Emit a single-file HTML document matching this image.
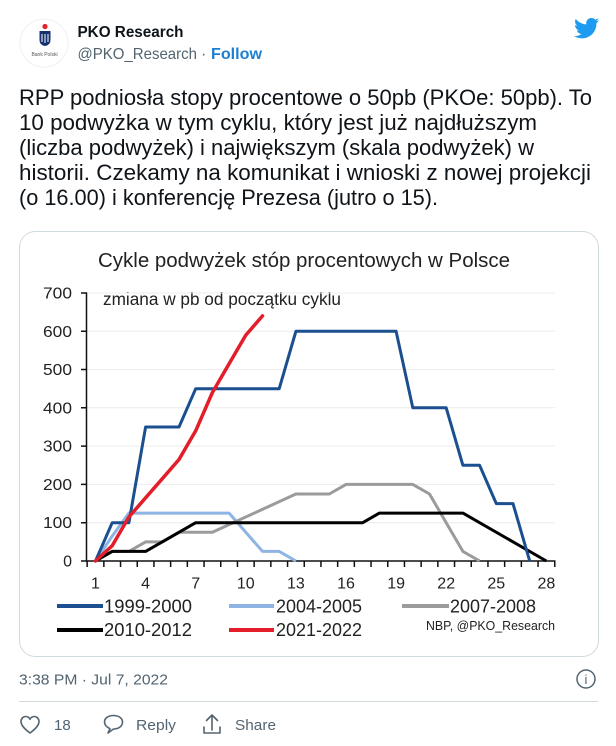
<!DOCTYPE html>
<html><head><meta charset="utf-8"><style>
html,body{margin:0;padding:0;background:#fff;}
svg{display:block;}
text{font-family:"Liberation Sans","DejaVu Sans",sans-serif;}
</style></head><body>
<svg width="616" height="746" viewBox="0 0 616 746" xmlns="http://www.w3.org/2000/svg">
<rect width="616" height="746" fill="#fff"/>
<!-- Header -->
<circle cx="44" cy="43" r="24" fill="#fff" stroke="#eef1f3" stroke-width="1"/>
<circle cx="45" cy="26.5" r="2.6" fill="#e2232a"/>
<path d="M39.5 31 h11 v9 q0 5 -5.5 6 q-5.5 -1 -5.5 -6 z" fill="#14306e"/>
<path d="M42 34 v8 M45 34 v9 M48 34 v8" stroke="#fff" stroke-width="1"/>
<text x="44.5" y="56" font-size="5" fill="#555" text-anchor="middle">Bank Polski</text>
<text x="77.5" y="37" font-size="16" font-weight="bold" fill="#0f1419" textLength="106" lengthAdjust="spacingAndGlyphs">PKO Research</text>
<text x="77.5" y="59" font-size="16" fill="#536471" textLength="119.5" lengthAdjust="spacingAndGlyphs">@PKO_Research</text>
<text x="201" y="59" font-size="16" fill="#536471">·</text>
<text x="211" y="59" font-size="16" font-weight="bold" fill="#1d7fd1" textLength="51" lengthAdjust="spacingAndGlyphs">Follow</text>
<g transform="translate(573,15) scale(1.1)" fill="#1d9bf0">
<path d="M23.643 4.937c-.835.37-1.732.62-2.675.733.962-.576 1.7-1.49 2.048-2.578-.9.534-1.897.922-2.958 1.13-.85-.904-2.06-1.47-3.4-1.47-2.572 0-4.658 2.086-4.658 4.66 0 .364.042.718.12 1.06-3.873-.195-7.304-2.05-9.602-4.868-.4.69-.63 1.49-.63 2.342 0 1.616.823 3.043 2.072 3.878-.764-.025-1.482-.234-2.11-.583v.06c0 2.257 1.605 4.14 3.737 4.568-.392.106-.803.162-1.227.162-.3 0-.593-.028-.877-.082.593 1.85 2.313 3.198 4.352 3.234-1.595 1.25-3.604 1.995-5.786 1.995-.376 0-.747-.022-1.112-.065 2.062 1.323 4.51 2.093 7.14 2.093 8.57 0 13.255-7.098 13.255-13.254 0-.2-.005-.402-.014-.602.91-.658 1.7-1.477 2.323-2.41z"/>
</g>
<!-- Tweet text -->
<g font-size="22" fill="#0f1419">
<text x="19" y="105" textLength="573" lengthAdjust="spacingAndGlyphs">RPP podniosła stopy procentowe o 50pb (PKOe: 50pb). To</text>
<text x="19" y="130" textLength="518" lengthAdjust="spacingAndGlyphs">10 podwyżka w tym cyklu, który jest już najdłuższym</text>
<text x="19" y="155" textLength="515" lengthAdjust="spacingAndGlyphs">(liczba podwyżek) i największym (skala podwyżek) w</text>
<text x="19" y="180" textLength="572" lengthAdjust="spacingAndGlyphs">historii. Czekamy na komunikat i wnioski z nowej projekcji</text>
<text x="19" y="205" textLength="419" lengthAdjust="spacingAndGlyphs">(o 16.00) i konferencję Prezesa (jutro o 15).</text>
</g>
<!-- Card -->
<rect x="19.5" y="231.5" width="579" height="425" rx="16" ry="16" fill="#fff" stroke="#cfd9de" stroke-width="1"/>
<!-- Chart title -->
<text x="98" y="267" font-size="20" fill="#222" textLength="412" lengthAdjust="spacingAndGlyphs">Cykle podwyżek stóp procentowych w Polsce</text>
<text x="103" y="305" font-size="17.5" fill="#222" textLength="238" lengthAdjust="spacingAndGlyphs">zmiana w pb od początku cyklu</text>
<!-- Gridlines -->
<g stroke="#ececec" stroke-width="1">
<line x1="87" y1="522.7" x2="555" y2="522.7"/>
<line x1="87" y1="484.4" x2="555" y2="484.4"/>
<line x1="87" y1="446.1" x2="555" y2="446.1"/>
<line x1="87" y1="407.8" x2="555" y2="407.8"/>
<line x1="87" y1="369.5" x2="555" y2="369.5"/>
<line x1="87" y1="331.3" x2="555" y2="331.3"/>
<line x1="87" y1="293" x2="555" y2="293"/>
</g>
<!-- Axes -->
<g stroke="#111" stroke-width="1.5" fill="none">
<line x1="86.5" y1="292.5" x2="86.5" y2="561"/>
<line x1="86" y1="561" x2="555.5" y2="561"/>
<path d="M81 561H87M81 522.7H87M81 484.4H87M81 446.1H87M81 407.8H87M81 369.5H87M81 331.3H87M81 293H87"/>
<path d="M87.15 561v6M103.85 561v6M120.55 561v6M137.25 561v6M153.95 561v6M170.65 561v6M187.35 561v6M204.05 561v6M220.75 561v6M237.45 561v6M254.15 561v6M270.85 561v6M287.55 561v6M304.25 561v6M320.95 561v6M337.65 561v6M354.35 561v6M371.05 561v6M387.75 561v6M404.45 561v6M421.15 561v6M437.85 561v6M454.55 561v6M471.25 561v6M487.95 561v6M504.65 561v6M521.35 561v6M538.05 561v6M554.75 561v6"/>
</g>
<!-- Y labels -->
<g font-size="16" fill="#222" text-anchor="end">
<text x="72" y="566.5">0</text>
<text x="72" y="528.2" textLength="29" lengthAdjust="spacingAndGlyphs">100</text>
<text x="72" y="489.9" textLength="29" lengthAdjust="spacingAndGlyphs">200</text>
<text x="72" y="451.6" textLength="29" lengthAdjust="spacingAndGlyphs">300</text>
<text x="72" y="413.3" textLength="29" lengthAdjust="spacingAndGlyphs">400</text>
<text x="72" y="375" textLength="29" lengthAdjust="spacingAndGlyphs">500</text>
<text x="72" y="336.8" textLength="29" lengthAdjust="spacingAndGlyphs">600</text>
<text x="72" y="298.5" textLength="29" lengthAdjust="spacingAndGlyphs">700</text>
</g>
<!-- X labels -->
<g font-size="16" fill="#222" text-anchor="middle">
<text x="95.5" y="588.5">1</text>
<text x="145.6" y="588.5">4</text>
<text x="195.7" y="588.5">7</text>
<text x="245.8" y="588.5">10</text>
<text x="295.9" y="588.5">13</text>
<text x="346" y="588.5">16</text>
<text x="396.1" y="588.5">19</text>
<text x="446.2" y="588.5">22</text>
<text x="496.3" y="588.5">25</text>
<text x="546.4" y="588.5">28</text>
</g>
<!-- Series -->
<g fill="none" stroke-width="3" stroke-linejoin="round">
<polyline stroke="#8db4e2" points="95.5,561 112.2,536.1 128.9,513.1 229.1,513.1 262.5,551.4 279.2,551.4 295.9,561"/>
<polyline stroke="#9b9b9b" points="95.5,561 112.2,551.4 128.9,551.4 145.6,541.9 162.3,541.9 179,532.3 212.4,532.3 295.9,494 329.3,494 346,484.4 412.8,484.4 429.5,494 446.2,522.7 462.9,551.4 479.6,561"/>
<polyline stroke="#000" points="95.5,561 112.2,551.4 145.6,551.4 195.7,522.7 362.7,522.7 379.4,513.1 462.9,513.1 546.4,561"/>
<polyline stroke="#1b4f8f" points="95.5,561 112.2,522.7 128.9,522.7 145.6,427 179,427 195.7,388.7 279.2,388.7 295.9,331.3 396.1,331.3 412.8,407.8 446.2,407.8 462.9,465.3 479.6,465.3 496.3,503.6 513,503.6 529.7,561"/>
<polyline stroke="#e31e2a" stroke-width="3.5" stroke-linecap="round" points="95.5,561 112.2,545.7 128.9,517 145.6,497.8 162.3,478.7 179,459.5 195.7,430.8 212.4,392.5 229.1,363.8 245.8,335.1 262.5,315.9"/>
</g>
<!-- Legend -->
<g stroke-width="4">
<line x1="57" y1="606" x2="103" y2="606" stroke="#1b4f8f"/>
<line x1="229" y1="606" x2="274" y2="606" stroke="#8db4e2"/>
<line x1="402" y1="606" x2="449" y2="606" stroke="#9b9b9b"/>
<line x1="57" y1="630" x2="103" y2="630" stroke="#000"/>
<line x1="229" y1="630" x2="274" y2="630" stroke="#e31e2a"/>
</g>
<g font-size="18.5" fill="#222">
<text x="104" y="612.5" textLength="88" lengthAdjust="spacingAndGlyphs">1999-2000</text>
<text x="276" y="612.5" textLength="86" lengthAdjust="spacingAndGlyphs">2004-2005</text>
<text x="450" y="612.5" textLength="86" lengthAdjust="spacingAndGlyphs">2007-2008</text>
<text x="104" y="636" textLength="88" lengthAdjust="spacingAndGlyphs">2010-2012</text>
<text x="276" y="636" textLength="86" lengthAdjust="spacingAndGlyphs">2021-2022</text>
</g>
<text x="426" y="630" font-size="13" fill="#222" textLength="129" lengthAdjust="spacingAndGlyphs">NBP, @PKO_Research</text>
<!-- Footer -->
<text x="19" y="684.5" font-size="15" fill="#536471" textLength="149" lengthAdjust="spacingAndGlyphs">3:38 PM · Jul 7, 2022</text>
<circle cx="586" cy="679" r="9" fill="none" stroke="#536471" stroke-width="1.5"/>
<text x="586" y="684" font-size="13" fill="#536471" text-anchor="middle">i</text>
<line x1="19" y1="701.5" x2="598" y2="701.5" stroke="#cfd9de" stroke-width="1"/>
<g fill="none" stroke="#536471" stroke-width="1.6" stroke-linejoin="round" stroke-linecap="round">
<path d="M30 733 C26 730 21 726 21 721.5 C21 718.5 23.3 716.5 25.8 716.5 C27.8 716.5 29.2 717.7 30 719.2 C30.8 717.7 32.2 716.5 34.2 716.5 C36.7 716.5 39 718.5 39 721.5 C39 726 34 730 30 733 Z"/>
<path d="M108 733 L110 728.7 C106.5 727.2 104.5 724.5 104.5 721.8 C104.5 717.8 108.7 715.5 113.5 715.5 C118.5 715.5 122.5 718 122.5 722 C122.5 726.3 118.5 729 113.5 729 Z"/>
<path d="M212 730 V715.5 M206.5 720.5 L212 715 L217.5 720.5 M204 727 V733 H220 V727"/>
</g>
<g font-size="15" fill="#536471">
<text x="54" y="730">18</text>
<text x="136" y="730" textLength="40" lengthAdjust="spacingAndGlyphs">Reply</text>
<text x="235" y="730" textLength="41" lengthAdjust="spacingAndGlyphs">Share</text>
</g>
</svg>
</body></html>
